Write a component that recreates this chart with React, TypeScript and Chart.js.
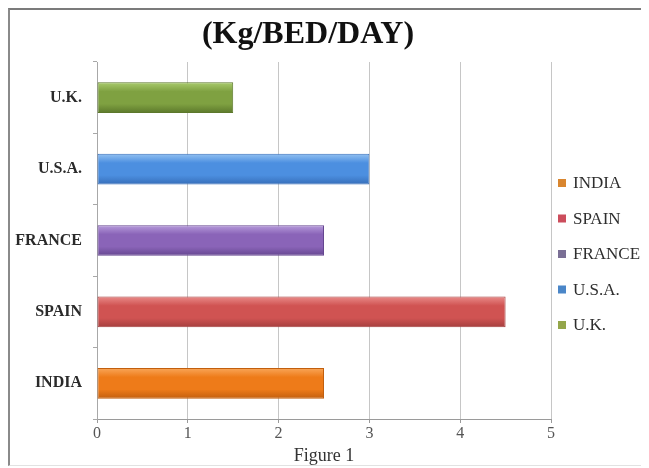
import { useEffect, useRef } from "react";
import { Chart, registerables } from "chart.js";

Chart.register(...registerables);

// Waste generated per hospital bed per day, by country
const countries = ["INDIA", "SPAIN", "FRANCE", "U.S.A.", "U.K."];
const wastePerBed = [2.5, 4.5, 2.5, 3, 1.5];

// Bar shading: light top edge, body colour, darker bottom edge
const barLight = ["#f9a75a", "#e98b89", "#b79cdb", "#93c2f2", "#a9cb6d"];
const barMid = ["#ee7b19", "#d05352", "#8a64b8", "#4c8fe0", "#7fa141"];
const barDark = ["#c25f0e", "#a53f3e", "#654690", "#366eb9", "#5c782b"];
const legendSwatch = ["#d9862f", "#cc4d5c", "#7a6f95", "#4a86c8", "#94a64a"];

const xTicks = [0, 1, 2, 3, 4, 5];
const chartTitle = "(Kg/BED/DAY)";
const axisTitle = "Figure 1";

const SERIF = '"Liberation Serif", "Times New Roman", serif';
const BAR_FRACTION = 0.43;

const headerAndLegend = {
  id: "headerAndLegend",
  afterDraw(chart: any) {
    const { ctx, chartArea } = chart;
    ctx.save();

    // heading
    ctx.font = `bold 32px ${SERIF}`;
    ctx.fillStyle = "#111";
    ctx.textAlign = "center";
    ctx.textBaseline = "alphabetic";
    ctx.fillText(chartTitle, 298, 33);

    // legend, one entry per country
    ctx.font = `17px ${SERIF}`;
    ctx.textAlign = "left";
    ctx.textBaseline = "middle";
    const step = 35.5;
    const mid = (chartArea.top + chartArea.bottom) / 2 + 13.5;
    const first = mid - (step * (countries.length - 1)) / 2;
    const boxX = chartArea.right + 7;
    countries.forEach((name, i) => {
      const y = first + i * step;
      ctx.fillStyle = legendSwatch[i];
      ctx.fillRect(boxX, y - 4, 8, 8);
      ctx.fillStyle = "#2e2e2e";
      ctx.fillText(name, boxX + 15, y + 1);
    });
    ctx.restore();
  },
};

export default function App() {
  const canvasRef = useRef<HTMLCanvasElement | null>(null);

  useEffect(() => {
    const canvas = canvasRef.current;
    if (!canvas) return;

    const chart = new Chart(canvas, {
      type: "bar",
      data: {
        labels: countries,
        datasets: [
          {
            data: wastePerBed,
            backgroundColor: (c: any) => {
              const i = c.dataIndex ?? 0;
              const yScale = c.chart.scales?.y;
              if (!yScale || c.type !== "data") return barMid[i];
              const center = yScale.getPixelForValue(i);
              const half = ((yScale.height / countries.length) * BAR_FRACTION) / 2;
              if (!Number.isFinite(center) || !Number.isFinite(half) || half <= 0) {
                return barMid[i];
              }
              const g = c.chart.ctx.createLinearGradient(0, center - half, 0, center + half);
              g.addColorStop(0, barLight[i]);
              g.addColorStop(0.3, barMid[i]);
              g.addColorStop(0.7, barMid[i]);
              g.addColorStop(1, barDark[i]);
              return g;
            },
            borderColor: barDark,
            borderWidth: 1,
            borderSkipped: false,
            barPercentage: BAR_FRACTION,
            categoryPercentage: 1,
          },
        ],
      },
      options: {
        indexAxis: "y",
        animation: false,
        responsive: false,
        devicePixelRatio: 1,
        layout: { padding: { top: 52, right: 98, left: 0, bottom: 0 } },
        plugins: {
          legend: { display: false },
          title: { display: false },
          tooltip: { enabled: false },
        },
        scales: {
          x: {
            min: 0,
            max: 5,
            afterBuildTicks: (scale: any) => {
              scale.ticks = xTicks.map((v) => ({ value: v }));
            },
            afterFit: (scale: any) => {
              scale.height = 46;
            },
            ticks: {
              color: "#555",
              font: { family: SERIF, size: 16 },
              padding: 1,
            },
            grid: {
              color: "#c6c6c6",
              tickColor: "#9a9a9a",
              tickLength: 4,
            },
            border: { color: "#9a9a9a" },
            title: {
              display: true,
              text: axisTitle,
              color: "#333",
              font: { family: SERIF, size: 18, lineHeight: 1 },
              padding: { top: 0, bottom: 0 },
            },
          },
          y: {
            reverse: true,
            afterFit: (scale: any) => {
              scale.width = 87;
            },
            ticks: {
              color: "#2a2a2a",
              font: { family: SERIF, size: 16, weight: "bold" },
              padding: 11,
            },
            grid: {
              drawOnChartArea: false,
              tickColor: "#a8a8a8",
              tickLength: 4,
            },
            border: { color: "#a8a8a8" },
          },
        },
      },
      plugins: [headerAndLegend],
    });

    return () => chart.destroy();
  }, []);

  return (
    <div
      style={{
        width: 639,
        height: 455,
        borderTop: "2px solid #7b7b7b",
        borderLeft: "2px solid #8a8a8a",
        borderBottom: "1px solid #e2e2e2",
        background: "#fff",
      }}
    >
      <canvas ref={canvasRef} width={639} height={455} style={{ display: "block" }} />
    </div>
  );
}
